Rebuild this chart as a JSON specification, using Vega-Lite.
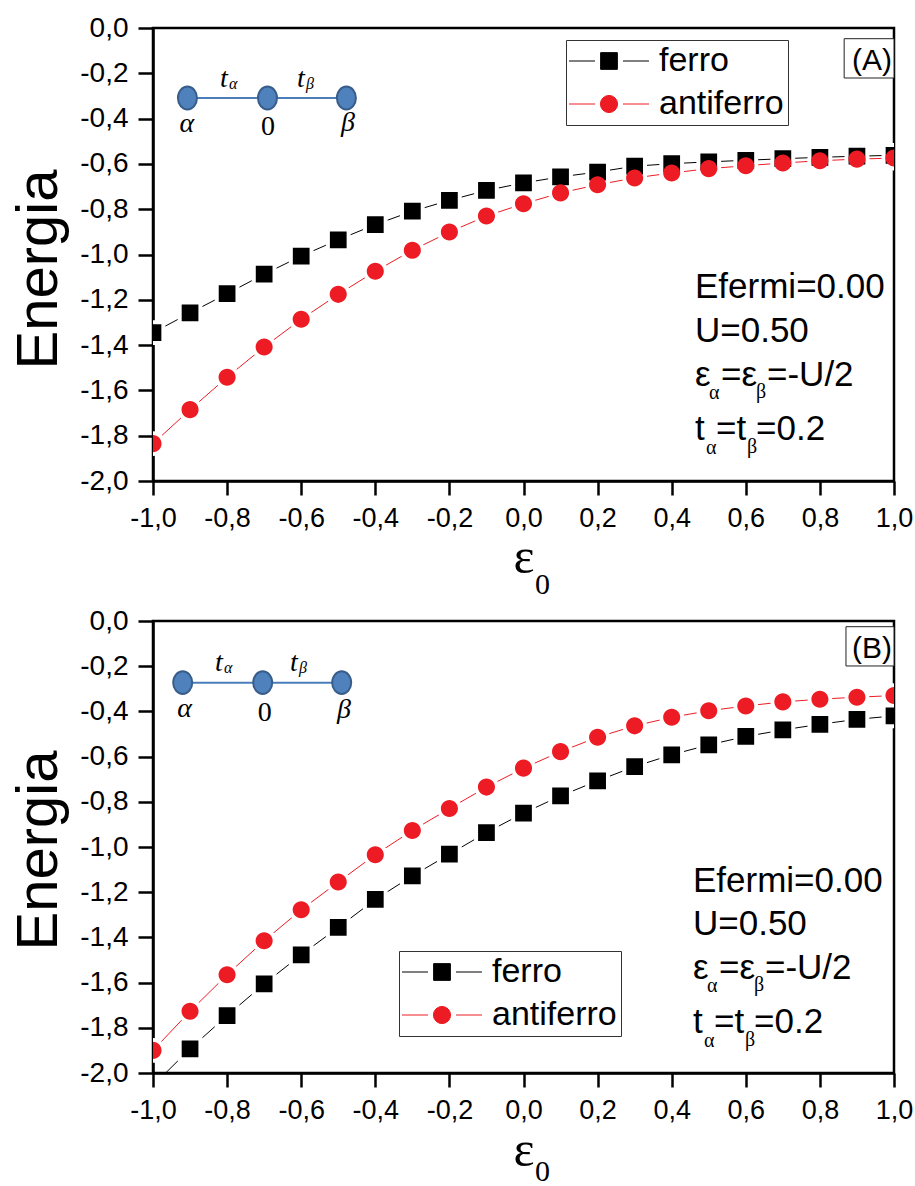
{
  "$schema": "https://vega.github.io/schema/vega-lite/v6.json",
  "background": "white",
  "padding": {"left": 8, "top": 12, "right": 0, "bottom": 0},
  "spacing": 3,
  "datasets": {
    "energia": [
      {"painel": "A", "fase": "ferro", "e0": -1.0, "E": -1.345},
      {"painel": "A", "fase": "ferro", "e0": -0.9, "E": -1.258},
      {"painel": "A", "fase": "ferro", "e0": -0.8, "E": -1.173},
      {"painel": "A", "fase": "ferro", "e0": -0.7, "E": -1.087},
      {"painel": "A", "fase": "ferro", "e0": -0.6, "E": -1.007},
      {"painel": "A", "fase": "ferro", "e0": -0.5, "E": -0.935},
      {"painel": "A", "fase": "ferro", "e0": -0.4, "E": -0.868},
      {"painel": "A", "fase": "ferro", "e0": -0.3, "E": -0.809},
      {"painel": "A", "fase": "ferro", "e0": -0.2, "E": -0.761},
      {"painel": "A", "fase": "ferro", "e0": -0.1, "E": -0.717},
      {"painel": "A", "fase": "ferro", "e0": 0.0, "E": -0.684},
      {"painel": "A", "fase": "ferro", "e0": 0.1, "E": -0.657},
      {"painel": "A", "fase": "ferro", "e0": 0.2, "E": -0.636},
      {"painel": "A", "fase": "ferro", "e0": 0.3, "E": -0.610},
      {"painel": "A", "fase": "ferro", "e0": 0.4, "E": -0.599},
      {"painel": "A", "fase": "ferro", "e0": 0.5, "E": -0.591},
      {"painel": "A", "fase": "ferro", "e0": 0.6, "E": -0.584},
      {"painel": "A", "fase": "ferro", "e0": 0.7, "E": -0.577},
      {"painel": "A", "fase": "ferro", "e0": 0.8, "E": -0.571},
      {"painel": "A", "fase": "ferro", "e0": 0.9, "E": -0.566},
      {"painel": "A", "fase": "ferro", "e0": 1.0, "E": -0.562},
      {"painel": "A", "fase": "antiferro", "e0": -1.0, "E": -1.835},
      {"painel": "A", "fase": "antiferro", "e0": -0.9, "E": -1.685},
      {"painel": "A", "fase": "antiferro", "e0": -0.8, "E": -1.542},
      {"painel": "A", "fase": "antiferro", "e0": -0.7, "E": -1.408},
      {"painel": "A", "fase": "antiferro", "e0": -0.6, "E": -1.286},
      {"painel": "A", "fase": "antiferro", "e0": -0.5, "E": -1.176},
      {"painel": "A", "fase": "antiferro", "e0": -0.4, "E": -1.074},
      {"painel": "A", "fase": "antiferro", "e0": -0.3, "E": -0.981},
      {"painel": "A", "fase": "antiferro", "e0": -0.2, "E": -0.901},
      {"painel": "A", "fase": "antiferro", "e0": -0.1, "E": -0.830},
      {"painel": "A", "fase": "antiferro", "e0": 0.0, "E": -0.776},
      {"painel": "A", "fase": "antiferro", "e0": 0.1, "E": -0.728},
      {"painel": "A", "fase": "antiferro", "e0": 0.2, "E": -0.692},
      {"painel": "A", "fase": "antiferro", "e0": 0.3, "E": -0.662},
      {"painel": "A", "fase": "antiferro", "e0": 0.4, "E": -0.640},
      {"painel": "A", "fase": "antiferro", "e0": 0.5, "E": -0.621},
      {"painel": "A", "fase": "antiferro", "e0": 0.6, "E": -0.608},
      {"painel": "A", "fase": "antiferro", "e0": 0.7, "E": -0.596},
      {"painel": "A", "fase": "antiferro", "e0": 0.8, "E": -0.586},
      {"painel": "A", "fase": "antiferro", "e0": 0.9, "E": -0.579},
      {"painel": "A", "fase": "antiferro", "e0": 1.0, "E": -0.574},
      {"painel": "B", "fase": "ferro", "e0": -1.0, "E": -2.055},
      {"painel": "B", "fase": "ferro", "e0": -0.9, "E": -1.893},
      {"painel": "B", "fase": "ferro", "e0": -0.8, "E": -1.746},
      {"painel": "B", "fase": "ferro", "e0": -0.7, "E": -1.606},
      {"painel": "B", "fase": "ferro", "e0": -0.6, "E": -1.477},
      {"painel": "B", "fase": "ferro", "e0": -0.5, "E": -1.356},
      {"painel": "B", "fase": "ferro", "e0": -0.4, "E": -1.232},
      {"painel": "B", "fase": "ferro", "e0": -0.3, "E": -1.128},
      {"painel": "B", "fase": "ferro", "e0": -0.2, "E": -1.032},
      {"painel": "B", "fase": "ferro", "e0": -0.1, "E": -0.936},
      {"painel": "B", "fase": "ferro", "e0": 0.0, "E": -0.850},
      {"painel": "B", "fase": "ferro", "e0": 0.1, "E": -0.774},
      {"painel": "B", "fase": "ferro", "e0": 0.2, "E": -0.707},
      {"painel": "B", "fase": "ferro", "e0": 0.3, "E": -0.644},
      {"painel": "B", "fase": "ferro", "e0": 0.4, "E": -0.592},
      {"painel": "B", "fase": "ferro", "e0": 0.5, "E": -0.548},
      {"painel": "B", "fase": "ferro", "e0": 0.6, "E": -0.511},
      {"painel": "B", "fase": "ferro", "e0": 0.7, "E": -0.482},
      {"painel": "B", "fase": "ferro", "e0": 0.8, "E": -0.457},
      {"painel": "B", "fase": "ferro", "e0": 0.9, "E": -0.435},
      {"painel": "B", "fase": "ferro", "e0": 1.0, "E": -0.420},
      {"painel": "B", "fase": "antiferro", "e0": -1.0, "E": -1.900},
      {"painel": "B", "fase": "antiferro", "e0": -0.9, "E": -1.727},
      {"painel": "B", "fase": "antiferro", "e0": -0.8, "E": -1.565},
      {"painel": "B", "fase": "antiferro", "e0": -0.7, "E": -1.415},
      {"painel": "B", "fase": "antiferro", "e0": -0.6, "E": -1.278},
      {"painel": "B", "fase": "antiferro", "e0": -0.5, "E": -1.155},
      {"painel": "B", "fase": "antiferro", "e0": -0.4, "E": -1.034},
      {"painel": "B", "fase": "antiferro", "e0": -0.3, "E": -0.927},
      {"painel": "B", "fase": "antiferro", "e0": -0.2, "E": -0.830},
      {"painel": "B", "fase": "antiferro", "e0": -0.1, "E": -0.735},
      {"painel": "B", "fase": "antiferro", "e0": 0.0, "E": -0.651},
      {"painel": "B", "fase": "antiferro", "e0": 0.1, "E": -0.578},
      {"painel": "B", "fase": "antiferro", "e0": 0.2, "E": -0.514},
      {"painel": "B", "fase": "antiferro", "e0": 0.3, "E": -0.464},
      {"painel": "B", "fase": "antiferro", "e0": 0.4, "E": -0.426},
      {"painel": "B", "fase": "antiferro", "e0": 0.5, "E": -0.397},
      {"painel": "B", "fase": "antiferro", "e0": 0.6, "E": -0.376},
      {"painel": "B", "fase": "antiferro", "e0": 0.7, "E": -0.358},
      {"painel": "B", "fase": "antiferro", "e0": 0.8, "E": -0.346},
      {"painel": "B", "fase": "antiferro", "e0": 0.9, "E": -0.337},
      {"painel": "B", "fase": "antiferro", "e0": 1.0, "E": -0.330}
    ]
  },
  "vconcat": [
    {
      "width": 741,
      "height": 453,
      "layer": [
        {
          "data": {"name": "energia"},
          "transform": [{"filter": "datum.painel === 'A'"}],
          "encoding": {
            "x": {
              "field": "e0", "type": "quantitative",
              "scale": {"domain": [-1, 1], "nice": false, "zero": false},
              "axis": {
                "values": [-1, -0.9, -0.8, -0.7, -0.6, -0.5, -0.4, -0.3, -0.2, -0.1, 0, 0.1, 0.2, 0.3, 0.4, 0.5, 0.6, 0.7, 0.8, 0.9, 1],
                "tickSize": {"condition": {"test": "abs(round(datum.value*10)) % 2 === 0", "value": 14}, "value": 7},
                "labelExpr": "abs(round(datum.value*10)) % 2 === 0 ? replace(replace(format(datum.value, '.1f'), '.', ','), '−', '-') : ''",
                "labelFlush": false, "labelOverlap": false,
                "title": "ε", "titleFont": "Liberation Serif", "titleFontSize": 50, "titleFontWeight": "normal",
                "titleY": 91, "titleBaseline": "alphabetic"
              }
            },
            "y": {
              "field": "E", "type": "quantitative",
              "scale": {"domain": [-2, 0], "nice": false, "zero": false},
              "axis": {
                "values": [-2, -1.9, -1.8, -1.7, -1.6, -1.5, -1.4, -1.3, -1.2, -1.1, -1, -0.9, -0.8, -0.7, -0.6, -0.5, -0.4, -0.3, -0.2, -0.1, 0],
                "tickSize": {"condition": {"test": "abs(round(datum.value*10)) % 2 === 0", "value": 15}, "value": 8},
                "labelExpr": "abs(round(datum.value*10)) % 2 === 0 ? replace(replace(format(datum.value, '.1f'), '.', ','), '−', '-') : ''",
                "labelFlush": false, "labelOverlap": false, "labelFontSize": 28,
                "title": "Energia", "titleFont": "Liberation Sans", "titleFontSize": 58, "titleFontWeight": "normal",
                "titleAngle": 270, "titleX": -97, "titleY": 241, "titleBaseline": "alphabetic", "titleAlign": "center"
              }
            }
          },
          "layer": [
            {
              "mark": {"type": "line", "strokeWidth": 1, "clip": true},
              "encoding": {
                "color": {
                  "field": "fase", "type": "nominal",
                  "scale": {"domain": ["ferro", "antiferro"], "range": ["#000000", "#ed1c24"]},
                  "legend": {"title": null, "orient": "none", "legendX": 413, "legendY": 12, "strokeColor": "#333333", "padding": 4, "rowPadding": 9, "symbolSize": 280, "symbolStrokeWidth": 1, "symbolOffset": 22, "labelOffset": 33, "symbolOpacity": 1, "labelFont": "Liberation Sans", "labelFontSize": 34, "labelColor": "#000000"}
                }
              }
            },
            {
              "transform": [{"filter": "datum.fase === 'ferro'"}],
              "mark": {"type": "point", "shape": "square", "filled": true, "fill": "white", "stroke": "white", "strokeWidth": 8, "size": 280, "opacity": 1, "clip": true}
            },
            {
              "transform": [{"filter": "datum.fase === 'antiferro'"}],
              "mark": {"type": "point", "shape": "circle", "filled": true, "fill": "white", "stroke": "white", "strokeWidth": 8, "size": 280, "opacity": 1, "clip": true}
            },
            {
              "mark": {"type": "point", "filled": true, "size": 280, "opacity": 1, "clip": true},
              "encoding": {
                "color": {
                  "field": "fase", "type": "nominal",
                  "scale": {"domain": ["ferro", "antiferro"], "range": ["#000000", "#ed1c24"]},
                  "legend": {"title": null, "orient": "none", "legendX": 413, "legendY": 12, "strokeColor": "#333333", "padding": 4, "rowPadding": 9, "symbolSize": 280, "symbolStrokeWidth": 1, "symbolOffset": 22, "labelOffset": 33, "symbolOpacity": 1, "labelFont": "Liberation Sans", "labelFontSize": 34, "labelColor": "#000000"}
                },
                "shape": {
                  "field": "fase", "type": "nominal",
                  "scale": {"domain": ["ferro", "antiferro"], "range": ["M-4.78,0H-1.67M1.67,0H4.78M-1,-1H1V1H-1Z", "M-4.78,0H-1.67M1.67,0H4.78M-1.02,0A1.02,1.02,0,1,1,1.02,0A1.02,1.02,0,1,1,-1.02,0Z"]},
                  "legend": {"title": null, "orient": "none", "legendX": 413, "legendY": 12, "strokeColor": "#333333", "padding": 4, "rowPadding": 9, "symbolSize": 280, "symbolStrokeWidth": 1, "symbolOffset": 22, "labelOffset": 33, "symbolOpacity": 1, "labelFont": "Liberation Sans", "labelFontSize": 34, "labelColor": "#000000"}
                }
              }
            }
          ]
        },
        {
          "data": {"values": [{}]},
          "layer": [
            {"mark": {"type": "rule", "color": "#4a7ebb", "strokeWidth": 2}, "encoding": {"x": {"datum": -0.907}, "x2": {"datum": -0.478}, "y": {"datum": -0.309}}},
            {"mark": {"type": "point", "shape": "M-1,0A1,1.2,0,1,1,1,0A1,1.2,0,1,1,-1,0Z", "size": 361, "filled": true, "fill": "#4f81bd", "stroke": "#385d8a", "strokeWidth": 2, "opacity": 1}, "encoding": {"x": {"datum": -0.907}, "y": {"datum": -0.309}}},
            {"mark": {"type": "point", "shape": "M-1,0A1,1.2,0,1,1,1,0A1,1.2,0,1,1,-1,0Z", "size": 361, "filled": true, "fill": "#4f81bd", "stroke": "#385d8a", "strokeWidth": 2, "opacity": 1}, "encoding": {"x": {"datum": -0.691}, "y": {"datum": -0.309}}},
            {"mark": {"type": "point", "shape": "M-1,0A1,1.2,0,1,1,1,0A1,1.2,0,1,1,-1,0Z", "size": 361, "filled": true, "fill": "#4f81bd", "stroke": "#385d8a", "strokeWidth": 2, "opacity": 1}, "encoding": {"x": {"datum": -0.478}, "y": {"datum": -0.309}}},
            {"mark": {"type": "text", "text": "α", "font": "Liberation Serif", "fontStyle": "italic", "fontSize": 28, "align": "center", "baseline": "alphabetic"}, "encoding": {"x": {"datum": -0.9088}, "y": {"datum": -0.459}}},
            {"mark": {"type": "text", "text": "0", "font": "Liberation Serif", "fontSize": 28, "align": "center", "baseline": "alphabetic"}, "encoding": {"x": {"datum": -0.6896}, "y": {"datum": -0.472}}},
            {"mark": {"type": "text", "text": "β", "font": "Liberation Serif", "fontStyle": "italic", "fontSize": 28, "align": "center", "baseline": "alphabetic"}, "encoding": {"x": {"datum": -0.4737}, "y": {"datum": -0.455}}},
            {"mark": {"type": "text", "text": "t", "font": "Liberation Serif", "fontStyle": "italic", "fontSize": 28, "align": "left", "baseline": "alphabetic"}, "encoding": {"x": {"datum": -0.8192}, "y": {"datum": -0.2605}}},
            {"mark": {"type": "text", "text": "α", "font": "Liberation Serif", "fontStyle": "italic", "fontSize": 16, "align": "left", "baseline": "alphabetic", "dx": 9, "dy": 2}, "encoding": {"x": {"datum": -0.8192}, "y": {"datum": -0.2605}}},
            {"mark": {"type": "text", "text": "t", "font": "Liberation Serif", "fontStyle": "italic", "fontSize": 28, "align": "left", "baseline": "alphabetic"}, "encoding": {"x": {"datum": -0.6113}, "y": {"datum": -0.2605}}},
            {"mark": {"type": "text", "text": "β", "font": "Liberation Serif", "fontStyle": "italic", "fontSize": 16, "align": "left", "baseline": "alphabetic", "dx": 9, "dy": 2}, "encoding": {"x": {"datum": -0.6113}, "y": {"datum": -0.2605}}},
            {"mark": {"type": "rect", "fill": "white", "stroke": "#222222", "strokeWidth": 1}, "encoding": {"x": {"datum": 0.8655}, "x2": {"datum": 1}, "y": {"datum": -0.0472}, "y2": {"datum": -0.2208}}},
            {"mark": {"type": "text", "text": "(A)", "font": "Liberation Sans", "fontSize": 30, "align": "right", "baseline": "alphabetic", "dx": -2}, "encoding": {"x": {"datum": 1}, "y": {"datum": -0.1868}}},
            {"mark": {"type": "text", "text": "Efermi=0.00", "font": "Liberation Sans", "fontSize": 35, "align": "left", "baseline": "alphabetic"}, "encoding": {"x": {"datum": 0.4629}, "y": {"datum": -1.192}}},
            {"mark": {"type": "text", "text": "U=0.50", "font": "Liberation Sans", "fontSize": 35, "align": "left", "baseline": "alphabetic"}, "encoding": {"x": {"datum": 0.4629}, "y": {"datum": -1.386}}},
            {"mark": {"type": "text", "text": "ε", "font": "Liberation Sans", "fontSize": 35, "align": "left", "baseline": "alphabetic"}, "encoding": {"x": {"datum": 0.4629}, "y": {"datum": -1.581}}},
            {"mark": {"type": "text", "text": "α", "font": "Liberation Serif", "fontSize": 20, "align": "left", "baseline": "alphabetic", "dx": 14, "dy": 13}, "encoding": {"x": {"datum": 0.4629}, "y": {"datum": -1.581}}},
            {"mark": {"type": "text", "text": "=ε", "font": "Liberation Sans", "fontSize": 35, "align": "left", "baseline": "alphabetic", "dx": 26}, "encoding": {"x": {"datum": 0.4629}, "y": {"datum": -1.581}}},
            {"mark": {"type": "text", "text": "β", "font": "Liberation Serif", "fontSize": 20, "align": "left", "baseline": "alphabetic", "dx": 61, "dy": 12}, "encoding": {"x": {"datum": 0.4629}, "y": {"datum": -1.581}}},
            {"mark": {"type": "text", "text": "=-U/2", "font": "Liberation Sans", "fontSize": 35, "align": "left", "baseline": "alphabetic", "dx": 72}, "encoding": {"x": {"datum": 0.4629}, "y": {"datum": -1.581}}},
            {"mark": {"type": "text", "text": "t", "font": "Liberation Sans", "fontSize": 35, "align": "left", "baseline": "alphabetic"}, "encoding": {"x": {"datum": 0.4629}, "y": {"datum": -1.819}}},
            {"mark": {"type": "text", "text": "α", "font": "Liberation Serif", "fontSize": 20, "align": "left", "baseline": "alphabetic", "dx": 11, "dy": 14}, "encoding": {"x": {"datum": 0.4629}, "y": {"datum": -1.819}}},
            {"mark": {"type": "text", "text": "=t", "font": "Liberation Sans", "fontSize": 35, "align": "left", "baseline": "alphabetic", "dx": 21}, "encoding": {"x": {"datum": 0.4629}, "y": {"datum": -1.819}}},
            {"mark": {"type": "text", "text": "β", "font": "Liberation Serif", "fontSize": 20, "align": "left", "baseline": "alphabetic", "dx": 52, "dy": 13}, "encoding": {"x": {"datum": 0.4629}, "y": {"datum": -1.819}}},
            {"mark": {"type": "text", "text": "=0.2", "font": "Liberation Sans", "fontSize": 35, "align": "left", "baseline": "alphabetic", "dx": 61}, "encoding": {"x": {"datum": 0.4629}, "y": {"datum": -1.819}}},
            {"mark": {"type": "text", "text": "0", "font": "Liberation Serif", "fontSize": 30, "align": "left", "baseline": "alphabetic"}, "encoding": {"x": {"datum": 0.031}, "y": {"datum": -2.5}}}
          ]
        }
      ]
    },
    {
      "width": 741,
      "height": 452,
      "layer": [
        {
          "data": {"name": "energia"},
          "transform": [{"filter": "datum.painel === 'B'"}],
          "encoding": {
            "x": {
              "field": "e0", "type": "quantitative",
              "scale": {"domain": [-1, 1], "nice": false, "zero": false},
              "axis": {
                "values": [-1, -0.9, -0.8, -0.7, -0.6, -0.5, -0.4, -0.3, -0.2, -0.1, 0, 0.1, 0.2, 0.3, 0.4, 0.5, 0.6, 0.7, 0.8, 0.9, 1],
                "tickSize": {"condition": {"test": "abs(round(datum.value*10)) % 2 === 0", "value": 14}, "value": 7},
                "labelExpr": "abs(round(datum.value*10)) % 2 === 0 ? replace(replace(format(datum.value, '.1f'), '.', ','), '−', '-') : ''",
                "labelFlush": false, "labelOverlap": false,
                "title": "ε", "titleFont": "Liberation Serif", "titleFontSize": 50, "titleFontWeight": "normal",
                "titleY": 92, "titleBaseline": "alphabetic"
              }
            },
            "y": {
              "field": "E", "type": "quantitative",
              "scale": {"domain": [-2, 0], "nice": false, "zero": false},
              "axis": {
                "values": [-2, -1.9, -1.8, -1.7, -1.6, -1.5, -1.4, -1.3, -1.2, -1.1, -1, -0.9, -0.8, -0.7, -0.6, -0.5, -0.4, -0.3, -0.2, -0.1, 0],
                "tickSize": {"condition": {"test": "abs(round(datum.value*10)) % 2 === 0", "value": 15}, "value": 8},
                "labelExpr": "abs(round(datum.value*10)) % 2 === 0 ? replace(replace(format(datum.value, '.1f'), '.', ','), '−', '-') : ''",
                "labelFlush": false, "labelOverlap": false, "labelFontSize": 28,
                "title": "Energia", "titleFont": "Liberation Sans", "titleFontSize": 58, "titleFontWeight": "normal",
                "titleAngle": 270, "titleX": -97, "titleY": 229, "titleBaseline": "alphabetic", "titleAlign": "center"
              }
            }
          },
          "layer": [
            {
              "mark": {"type": "line", "strokeWidth": 1, "clip": true},
              "encoding": {
                "color": {
                  "field": "fase", "type": "nominal",
                  "scale": {"domain": ["ferro", "antiferro"], "range": ["#000000", "#ed1c24"]},
                  "legend": {"title": null, "orient": "none", "legendX": 246, "legendY": 330, "strokeColor": "#333333", "padding": 4, "rowPadding": 9, "symbolSize": 280, "symbolStrokeWidth": 1, "symbolOffset": 22, "labelOffset": 33, "symbolOpacity": 1, "labelFont": "Liberation Sans", "labelFontSize": 34, "labelColor": "#000000"}
                }
              }
            },
            {
              "transform": [{"filter": "datum.fase === 'ferro'"}],
              "mark": {"type": "point", "shape": "square", "filled": true, "fill": "white", "stroke": "white", "strokeWidth": 8, "size": 280, "opacity": 1, "clip": true}
            },
            {
              "transform": [{"filter": "datum.fase === 'antiferro'"}],
              "mark": {"type": "point", "shape": "circle", "filled": true, "fill": "white", "stroke": "white", "strokeWidth": 8, "size": 280, "opacity": 1, "clip": true}
            },
            {
              "mark": {"type": "point", "filled": true, "size": 280, "opacity": 1, "clip": true},
              "encoding": {
                "color": {
                  "field": "fase", "type": "nominal",
                  "scale": {"domain": ["ferro", "antiferro"], "range": ["#000000", "#ed1c24"]},
                  "legend": {"title": null, "orient": "none", "legendX": 246, "legendY": 330, "strokeColor": "#333333", "padding": 4, "rowPadding": 9, "symbolSize": 280, "symbolStrokeWidth": 1, "symbolOffset": 22, "labelOffset": 33, "symbolOpacity": 1, "labelFont": "Liberation Sans", "labelFontSize": 34, "labelColor": "#000000"}
                },
                "shape": {
                  "field": "fase", "type": "nominal",
                  "scale": {"domain": ["ferro", "antiferro"], "range": ["M-4.78,0H-1.67M1.67,0H4.78M-1,-1H1V1H-1Z", "M-4.78,0H-1.67M1.67,0H4.78M-1.02,0A1.02,1.02,0,1,1,1.02,0A1.02,1.02,0,1,1,-1.02,0Z"]},
                  "legend": {"title": null, "orient": "none", "legendX": 246, "legendY": 330, "strokeColor": "#333333", "padding": 4, "rowPadding": 9, "symbolSize": 280, "symbolStrokeWidth": 1, "symbolOffset": 22, "labelOffset": 33, "symbolOpacity": 1, "labelFont": "Liberation Sans", "labelFontSize": 34, "labelColor": "#000000"}
                }
              }
            }
          ]
        },
        {
          "data": {"values": [{}]},
          "layer": [
            {"mark": {"type": "rule", "color": "#4a7ebb", "strokeWidth": 2}, "encoding": {"x": {"datum": -0.9198}, "x2": {"datum": -0.4907}, "y": {"datum": -0.2728}}},
            {"mark": {"type": "point", "shape": "M-1,0A1,1.2,0,1,1,1,0A1,1.2,0,1,1,-1,0Z", "size": 361, "filled": true, "fill": "#4f81bd", "stroke": "#385d8a", "strokeWidth": 2, "opacity": 1}, "encoding": {"x": {"datum": -0.9198}, "y": {"datum": -0.2728}}},
            {"mark": {"type": "point", "shape": "M-1,0A1,1.2,0,1,1,1,0A1,1.2,0,1,1,-1,0Z", "size": 361, "filled": true, "fill": "#4f81bd", "stroke": "#385d8a", "strokeWidth": 2, "opacity": 1}, "encoding": {"x": {"datum": -0.7039}, "y": {"datum": -0.2728}}},
            {"mark": {"type": "point", "shape": "M-1,0A1,1.2,0,1,1,1,0A1,1.2,0,1,1,-1,0Z", "size": 361, "filled": true, "fill": "#4f81bd", "stroke": "#385d8a", "strokeWidth": 2, "opacity": 1}, "encoding": {"x": {"datum": -0.4907}, "y": {"datum": -0.2728}}},
            {"mark": {"type": "text", "text": "α", "font": "Liberation Serif", "fontStyle": "italic", "fontSize": 28, "align": "center", "baseline": "alphabetic"}, "encoding": {"x": {"datum": -0.9144}, "y": {"datum": -0.4257}}},
            {"mark": {"type": "text", "text": "0", "font": "Liberation Serif", "fontSize": 28, "align": "center", "baseline": "alphabetic"}, "encoding": {"x": {"datum": -0.6982}, "y": {"datum": -0.4408}}},
            {"mark": {"type": "text", "text": "β", "font": "Liberation Serif", "fontStyle": "italic", "fontSize": 28, "align": "center", "baseline": "alphabetic"}, "encoding": {"x": {"datum": -0.4845}, "y": {"datum": -0.43}}},
            {"mark": {"type": "text", "text": "t", "font": "Liberation Serif", "fontStyle": "italic", "fontSize": 28, "align": "left", "baseline": "alphabetic"}, "encoding": {"x": {"datum": -0.8327}, "y": {"datum": -0.2197}}},
            {"mark": {"type": "text", "text": "α", "font": "Liberation Serif", "fontStyle": "italic", "fontSize": 16, "align": "left", "baseline": "alphabetic", "dx": 9, "dy": 2}, "encoding": {"x": {"datum": -0.8327}, "y": {"datum": -0.2197}}},
            {"mark": {"type": "text", "text": "t", "font": "Liberation Serif", "fontStyle": "italic", "fontSize": 28, "align": "left", "baseline": "alphabetic"}, "encoding": {"x": {"datum": -0.6302}, "y": {"datum": -0.2197}}},
            {"mark": {"type": "text", "text": "β", "font": "Liberation Serif", "fontStyle": "italic", "fontSize": 16, "align": "left", "baseline": "alphabetic", "dx": 9, "dy": 2}, "encoding": {"x": {"datum": -0.6302}, "y": {"datum": -0.2197}}},
            {"mark": {"type": "rect", "fill": "white", "stroke": "#222222", "strokeWidth": 1}, "encoding": {"x": {"datum": 0.8704}, "x2": {"datum": 1}, "y": {"datum": -0.0252}, "y2": {"datum": -0.199}}},
            {"mark": {"type": "text", "text": "(B)", "font": "Liberation Sans", "fontSize": 30, "align": "right", "baseline": "alphabetic", "dx": -2}, "encoding": {"x": {"datum": 1}, "y": {"datum": -0.1649}}},
            {"mark": {"type": "text", "text": "Efermi=0.00", "font": "Liberation Sans", "fontSize": 35, "align": "left", "baseline": "alphabetic"}, "encoding": {"x": {"datum": 0.4575}, "y": {"datum": -1.197}}},
            {"mark": {"type": "text", "text": "U=0.50", "font": "Liberation Sans", "fontSize": 35, "align": "left", "baseline": "alphabetic"}, "encoding": {"x": {"datum": 0.4575}, "y": {"datum": -1.388}}},
            {"mark": {"type": "text", "text": "ε", "font": "Liberation Sans", "fontSize": 35, "align": "left", "baseline": "alphabetic"}, "encoding": {"x": {"datum": 0.4575}, "y": {"datum": -1.583}}},
            {"mark": {"type": "text", "text": "α", "font": "Liberation Serif", "fontSize": 20, "align": "left", "baseline": "alphabetic", "dx": 14, "dy": 13}, "encoding": {"x": {"datum": 0.4575}, "y": {"datum": -1.583}}},
            {"mark": {"type": "text", "text": "=ε", "font": "Liberation Sans", "fontSize": 35, "align": "left", "baseline": "alphabetic", "dx": 26}, "encoding": {"x": {"datum": 0.4575}, "y": {"datum": -1.583}}},
            {"mark": {"type": "text", "text": "β", "font": "Liberation Serif", "fontSize": 20, "align": "left", "baseline": "alphabetic", "dx": 61, "dy": 12}, "encoding": {"x": {"datum": 0.4575}, "y": {"datum": -1.583}}},
            {"mark": {"type": "text", "text": "=-U/2", "font": "Liberation Sans", "fontSize": 35, "align": "left", "baseline": "alphabetic", "dx": 72}, "encoding": {"x": {"datum": 0.4575}, "y": {"datum": -1.583}}},
            {"mark": {"type": "text", "text": "t", "font": "Liberation Sans", "fontSize": 35, "align": "left", "baseline": "alphabetic"}, "encoding": {"x": {"datum": 0.4575}, "y": {"datum": -1.821}}},
            {"mark": {"type": "text", "text": "α", "font": "Liberation Serif", "fontSize": 20, "align": "left", "baseline": "alphabetic", "dx": 11, "dy": 14}, "encoding": {"x": {"datum": 0.4575}, "y": {"datum": -1.821}}},
            {"mark": {"type": "text", "text": "=t", "font": "Liberation Sans", "fontSize": 35, "align": "left", "baseline": "alphabetic", "dx": 21}, "encoding": {"x": {"datum": 0.4575}, "y": {"datum": -1.821}}},
            {"mark": {"type": "text", "text": "β", "font": "Liberation Serif", "fontSize": 20, "align": "left", "baseline": "alphabetic", "dx": 52, "dy": 13}, "encoding": {"x": {"datum": 0.4575}, "y": {"datum": -1.821}}},
            {"mark": {"type": "text", "text": "=0.2", "font": "Liberation Sans", "fontSize": 35, "align": "left", "baseline": "alphabetic", "dx": 61}, "encoding": {"x": {"datum": 0.4575}, "y": {"datum": -1.821}}},
            {"mark": {"type": "text", "text": "0", "font": "Liberation Serif", "fontSize": 30, "align": "left", "baseline": "alphabetic"}, "encoding": {"x": {"datum": 0.031}, "y": {"datum": -2.48}}}
          ]
        }
      ]
    }
  ],
  "resolve": {"scale": {"color": "independent", "shape": "independent"}, "legend": {"color": "independent", "shape": "independent"}},
  "config": {
    "locale": {"number": {"decimal": ",", "thousands": ".", "grouping": [3], "currency": ["", ""], "minus": "-"}},
    "view": {"stroke": "#000000", "strokeWidth": 2.5},
    "axis": {
      "grid": false,
      "domainColor": "#000000", "domainWidth": 2.5,
      "tickColor": "#000000", "tickWidth": 2.5,
      "labelFont": "Liberation Sans", "labelFontSize": 27, "labelColor": "#000000", "labelPadding": 10,
      "titleColor": "#000000"
    }
  }
}
